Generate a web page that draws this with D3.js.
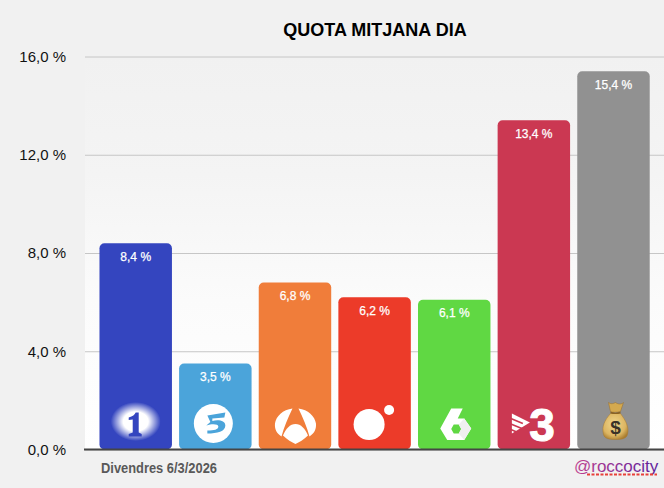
<!DOCTYPE html>
<html>
<head>
<meta charset="utf-8">
<script src="https://cdn.jsdelivr.net/npm/d3@7"></script>
<style>
  html, body { margin: 0; padding: 0; background: #f1f1f1; }
  svg { display: block; }
  text { font-family: "Liberation Sans", Arial, sans-serif; }
</style>
</head>
<body>
<div id="chart"></div>
<script>
const channels = ["La 1", "Telecinco", "Antena 3", "Cuatro", "La Sexta", "3Cat", "Altres"];
const share = [8.4, 3.5, 6.8, 6.2, 6.1, 13.4, 15.4];
const barColors = ["#3445bf", "#4ba4da", "#f07d3a", "#ec3b29", "#60d843", "#cb3852", "#919191"];
const yTicks = [0, 4, 8, 12, 16];
const chartTitle = "QUOTA MITJANA DIA";
const dateLabel = "Divendres 6/3/2026";
const handle = "@roccocity";

const width = 664, height = 488;
const plotLeft = 85, plotTop = 56.5, plotBottom = 449.5;

const comma = function (v, digits) {
  return v.toFixed(digits).replace(".", ",") + " %";
};

const svg = d3.select("#chart").append("svg")
  .attr("width", width)
  .attr("height", height);

const defs = svg.append("defs");

const bgGrad = defs.append("linearGradient")
  .attr("id", "plotBg").attr("x1", 0).attr("y1", 0).attr("x2", 0).attr("y2", 1);
bgGrad.append("stop").attr("offset", "0%").attr("stop-color", "#f1f1f1");
bgGrad.append("stop").attr("offset", "30%").attr("stop-color", "#f4f4f4");
bgGrad.append("stop").attr("offset", "62%").attr("stop-color", "#fbfbfb");
bgGrad.append("stop").attr("offset", "100%").attr("stop-color", "#ffffff");

const glow = defs.append("radialGradient").attr("id", "oneGlow");
glow.append("stop").attr("offset", "50%").attr("stop-color", "#ffffff");
glow.append("stop").attr("offset", "100%").attr("stop-color", "#ffffff").attr("stop-opacity", 0);

const handleGrad = defs.append("linearGradient").attr("id", "handleGrad");
handleGrad.append("stop").attr("offset", "0%").attr("stop-color", "#c0408f");
handleGrad.append("stop").attr("offset", "100%").attr("stop-color", "#5b1e9c");

const bagGrad = defs.append("radialGradient")
  .attr("id", "bagGrad").attr("cx", "45%").attr("cy", "40%").attr("r", "65%");
bagGrad.append("stop").attr("offset", "0%").attr("stop-color", "#f0d68c");
bagGrad.append("stop").attr("offset", "70%").attr("stop-color", "#dcb561");
bagGrad.append("stop").attr("offset", "100%").attr("stop-color", "#a97c2e");

const x = d3.scaleBand().domain(channels).range([95.9, 653.3]).paddingInner(0.09).paddingOuter(0.045);
const y = d3.scaleLinear().domain([0, 16]).range([plotBottom, plotTop]);

svg.append("rect")
  .attr("x", plotLeft).attr("y", plotTop)
  .attr("width", width - plotLeft).attr("height", plotBottom - plotTop)
  .attr("fill", "url(#plotBg)");

// gridlines and labels
const yAxis = svg.append("g")
  .attr("transform", "translate(" + plotLeft + ",0)")
  .call(d3.axisLeft(y).tickValues(yTicks).tickSize(-(width - plotLeft)).tickPadding(19)
    .tickFormat(function (d) { return comma(d, 1); }));
yAxis.select(".domain").remove();
yAxis.selectAll("line").attr("stroke", "#c6c6c6").attr("stroke-width", 1);
yAxis.selectAll("text")
  .attr("font-size", 15)
  .attr("fill", "#111111")
  .style("font-family", '"Liberation Sans", Arial, sans-serif');

// bars
svg.selectAll("rect.bar")
  .data(channels)
  .join("rect")
  .attr("class", "bar")
  .attr("x", function (d) { return x(d); })
  .attr("width", x.bandwidth())
  .attr("y", function (d, i) { return y(share[i]); })
  .attr("height", function (d, i) { return plotBottom - y(share[i]); })
  .attr("rx", 5)
  .attr("fill", function (d, i) { return barColors[i]; });

// value labels
svg.selectAll("text.value")
  .data(channels)
  .join("text")
  .attr("class", "value")
  .attr("x", function (d) { return x(d) + x.bandwidth() / 2; })
  .attr("y", function (d, i) { return y(share[i]) + 17.5; })
  .attr("text-anchor", "middle")
  .attr("font-size", 12)
  .attr("fill", "#ffffff")
  .attr("stroke", "#ffffff")
  .attr("stroke-width", 0.25)
  .text(function (d, i) { return comma(share[i], 1); });

// baseline over the bars
svg.append("line")
  .attr("x1", plotLeft - 1).attr("x2", width)
  .attr("y1", plotBottom).attr("y2", plotBottom)
  .attr("stroke", "#454545").attr("stroke-width", 2);

// channel logos, each drawn around the centre of its bar
const logos = {
  "La 1": function (g) {
    g.append("ellipse").attr("cy", -28).attr("rx", 25).attr("ry", 19.5).attr("fill", "url(#oneGlow)");
    g.append("path").attr("fill", "#3445bf")
      .attr("d", "M-7,-32 C-3,-33 -1,-35 0,-37 L3,-37 L3,-17 L6,-15.5 L6,-13 L-7,-13 L-7,-15.5 L-3,-17 L-3,-30 L-7,-29.5 Z");
  },
  "Telecinco": function (g) {
    g.append("circle").attr("cx", -2).attr("cy", -26).attr("r", 19.5).attr("fill", "#ffffff");
    g.append("path").attr("fill", "#4ba4da")
      .attr("d", "M-8,-34 L10,-37 L9,-32 L-3,-31 L-3,-28.5 C3,-30 10,-29 10,-24 C10,-18 2,-16 -8,-16 L-8,-19 C-1,-19 3,-20 3,-23 C3,-25.5 -3,-26 -9,-24 L-5,-27.5 Z");
  },
  "Antena 3": function (g) {
    g.append("path").attr("fill", "#ffffff")
      .attr("d", "M-2.5,-41 C-12,-40 -19,-33 -20,-26 C-20.5,-20 -18,-16 -13.5,-13 C-11,-22 -7,-32 -2.5,-41 Z");
    g.append("path").attr("fill", "#ffffff")
      .attr("d", "M3.5,-41 C13,-40 20,-33 21,-26 C21.5,-20 19,-16 14.5,-13 C12,-22 8,-32 3.5,-41 Z");
    g.append("path").attr("fill", "#ffffff")
      .attr("d", "M0.5,-25.5 C6,-25.5 10,-21 13,-14 C9,-10 4,-7 0.5,-5.5 C-3,-7 -8,-10 -12,-14 C-9,-21 -5,-25.5 0.5,-25.5 Z");
  },
  "Cuatro": function (g) {
    g.append("circle").attr("cx", -5.5).attr("cy", -25).attr("r", 15.5).attr("fill", "#ffffff");
    g.append("circle").attr("cx", 14.5).attr("cy", -39.5).attr("r", 5).attr("fill", "#ffffff");
  },
  "La Sexta": function (g) {
    g.append("path").attr("fill", "#ffffff").attr("fill-rule", "evenodd")
      .attr("d", "M-3,-41 L8.5,-41 L3.5,-31 L10,-31 L17,-21 L10,-9.5 L-7,-9.5 L-14,-21 Z M-3,-20.5 L-0.5,-16 L4.5,-16 L7,-20.5 L4.5,-25 L-0.5,-25 Z");
    g.append("path").attr("fill", "#efefef").attr("fill-rule", "evenodd")
      .attr("d", "M4.5,-25 L10,-31 L17,-21 L10,-9.5 L4.5,-16 L7,-20.5 Z");
  },
  "3Cat": function (g) {
    g.append("path").attr("fill", "#ffffff")
      .attr("d", "M-22,-36 L-4,-27 L-22,-16 Z");
    g.append("path").attr("fill", "none").attr("stroke", "#cb3852").attr("stroke-width", 1.6)
      .attr("d", "M-23,-31 L-11,-26 M-23,-25.5 L-12,-21 M-23,-20 L-16,-17");
    g.append("text").attr("x", -4.5).attr("y", -8.5)
      .attr("font-size", 46).attr("font-weight", "bold")
      .attr("fill", "#ffffff").attr("stroke", "#ffffff").attr("stroke-width", 1)
      .text("3");
  },
  "Altres": function (g) {
    g.append("path").attr("fill", "url(#bagGrad)").attr("stroke", "#a87a30").attr("stroke-width", 0.5)
      .attr("d", "M-3,-36 C-9,-29 -12,-23 -10,-15 C-9,-11 -5,-10 2,-10 C9,-10 13,-11 14,-15 C16,-23 12,-29 7,-36 Z");
    g.append("path").attr("fill", "#d4a94f").attr("stroke", "#9a6f28").attr("stroke-width", 0.5)
      .attr("d", "M-5,-47 C-2,-45 0,-46 2,-47 C5,-45 8,-45 10,-47 L7,-38 C3,-37 -1,-37 -3,-38 Z");
    g.append("path").attr("stroke", "#8a6222").attr("stroke-width", 1.4).attr("fill", "none")
      .attr("d", "M-3,-37 C0,-36 4,-36 7,-37");
    g.append("text").attr("x", 2).attr("y", -15.5).attr("text-anchor", "middle")
      .attr("font-size", 19).attr("font-weight", "bold").attr("fill", "#3a3328").text("$");
  }
};

channels.forEach(function (c) {
  const g = svg.append("g")
    .attr("transform", "translate(" + (x(c) + x.bandwidth() / 2) + "," + plotBottom + ")");
  logos[c](g);
});

svg.append("text")
  .attr("x", 375).attr("y", 36)
  .attr("text-anchor", "middle")
  .attr("font-size", 18)
  .attr("font-weight", "bold")
  .attr("fill", "#000000")
  .text(chartTitle);

svg.append("text")
  .attr("x", 101).attr("y", 473)
  .attr("font-size", 14)
  .attr("font-weight", "bold")
  .attr("fill", "#595959")
  .attr("textLength", 116)
  .attr("lengthAdjust", "spacingAndGlyphs")
  .text(dateLabel);

svg.append("text")
  .attr("x", 574).attr("y", 472)
  .attr("font-size", 17)
  .attr("fill", "url(#handleGrad)")
  .text(handle);

svg.append("line")
  .attr("x1", 587).attr("x2", 657)
  .attr("y1", 474.5).attr("y2", 474.5)
  .attr("stroke", "#e8403a").attr("stroke-width", 2)
  .attr("stroke-dasharray", "3,1.5");
</script>
</body>
</html>
